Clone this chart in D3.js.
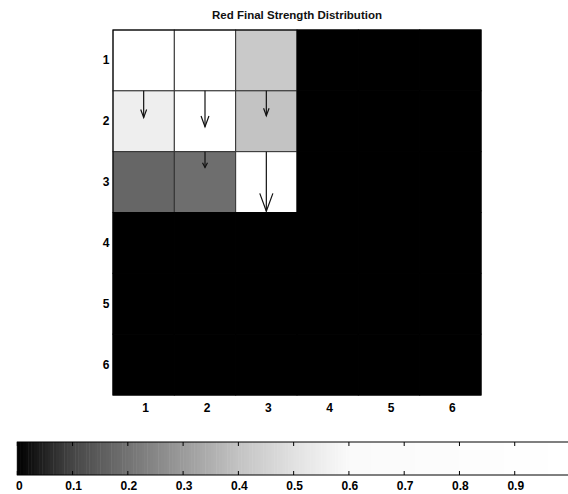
<!DOCTYPE html>
<html><head><meta charset="utf-8">
<script src="https://cdn.jsdelivr.net/npm/d3@7"></script>
<style>body{margin:0;background:#fff}svg{display:block}text{font-family:"Liberation Sans",Arial,sans-serif}</style>
</head><body>
<svg id="c" width="568" height="494"></svg>
<script>
const title = "Red Final Strength Distribution";
const rows = [1,2,3,4,5,6];
const cols = [1,2,3,4,5,6];
// strength values, row-major (row 1 first)
const strength = [
  [1.00, 1.00, 0.42, 0, 0, 0],
  [0.55, 1.00, 0.40, 0, 0, 0],
  [0.17, 0.19, 1.00, 0, 0, 0],
  [0, 0, 0, 0, 0, 0],
  [0, 0, 0, 0, 0, 0],
  [0, 0, 0, 0, 0, 0]
];
// arrows: column, start row position, downward length (row units)
const arrowCol   = [1, 2, 3, 2, 3];
const arrowStart = [1.5, 1.5, 1.5, 2.5, 2.5];
const arrowLen   = [0.44, 0.59, 0.41, 0.26, 0.98];
const cbTicks = [0,0.1,0.2,0.3,0.4,0.5,0.6,0.7,0.8,0.9];
const greyStops = [0, 0.1, 0.2, 0.3, 0.4, 0.5, 0.6, 1.0];
const greyLevels = [0, 70, 115, 155, 195, 225, 250, 255];

const svg = d3.select("#c");
const grey = d3.scaleLinear().domain(greyStops).range(greyLevels).clamp(true);
const col = v => { const g = Math.round(grey(v)); return `rgb(${g},${g},${g})`; };

const x = d3.scaleLinear().domain([0.5, 6.5]).range([113, 481]);
const y = d3.scaleLinear().domain([0.5, 6.5]).range([30, 395]);

svg.append("text").attr("x", 297).attr("y", 19).attr("text-anchor","middle")
  .attr("font-size", 11.5).attr("font-weight","bold").attr("fill","#111").text(title);

const cells = [];
strength.forEach((r,i)=>r.forEach((v,j)=>cells.push({r:rows[i], c:cols[j], v})));
svg.append("g").selectAll("rect").data(cells).join("rect")
  .attr("x", d=>x(d.c-0.5)).attr("y", d=>y(d.r-0.5))
  .attr("width", d=>x(d.c+0.5)-x(d.c-0.5)).attr("height", d=>y(d.r+0.5)-y(d.r-0.5))
  .attr("fill", d=>col(d.v)).attr("stroke", d=>d.v>0?"#333":"#000").attr("stroke-width", 1);

svg.append("rect").attr("x",113).attr("y",30).attr("width",368).attr("height",365)
  .attr("fill","none").attr("stroke","#000").attr("stroke-width",1);

// arrows
const ag = svg.append("g").attr("stroke","#111").attr("fill","none").attr("stroke-width",1.2);
arrowCol.forEach((c,i)=>{
  const x0 = x(c), y0 = y(arrowStart[i]), y1 = y(arrowStart[i]+arrowLen[i]);
  const L = y1 - y0, hl = 0.3*L, hw = Math.max(2.5, 0.11*L);
  ag.append("line").attr("x1",x0).attr("y1",y0).attr("x2",x0).attr("y2",y1);
  ag.append("path").attr("d",`M${x0-hw},${y1-hl}L${x0},${y1}L${x0+hw},${y1-hl}`);
});

// axis labels
svg.append("g").selectAll("text").data(rows).join("text")
  .attr("x",106).attr("y",d=>y(d)+4).attr("text-anchor","middle")
  .attr("font-size",12).attr("font-weight","bold").text(d=>d);
svg.append("g").selectAll("text").data(cols).join("text")
  .attr("x",d=>x(d)+2).attr("y",412).attr("text-anchor","middle")
  .attr("font-size",12).attr("font-weight","bold").text(d=>d);

// colorbar
const cb = d3.scaleLinear().domain([0,1]).range([17.3, 570]);
const steps = d3.range(0, 1, 0.005);
svg.append("g").selectAll("rect").data(steps).join("rect")
  .attr("x", d=>cb(d)).attr("y",442).attr("width", cb(0.005)-cb(0)+0.5).attr("height",33)
  .attr("fill", d=>col(d+0.0025));
svg.append("rect").attr("x",cb(0)).attr("y",442).attr("width",cb(1)-cb(0)).attr("height",33)
  .attr("fill","none").attr("stroke","#000").attr("stroke-width",1);
const tg = svg.append("g").attr("stroke","#000").attr("stroke-width",1);
cbTicks.forEach(t=>{
  tg.append("line").attr("x1",cb(t)).attr("x2",cb(t)).attr("y1",442).attr("y2",446);
  tg.append("line").attr("x1",cb(t)).attr("x2",cb(t)).attr("y1",475).attr("y2",471);
});
svg.append("g").selectAll("text").data(cbTicks).join("text")
  .attr("x",d=>cb(d)+(d===0?2:1)).attr("y",490).attr("text-anchor","middle")
  .attr("font-size",12).attr("font-weight","bold").text(d=>d===0?"0":d.toFixed(1));
</script>
</body></html>
